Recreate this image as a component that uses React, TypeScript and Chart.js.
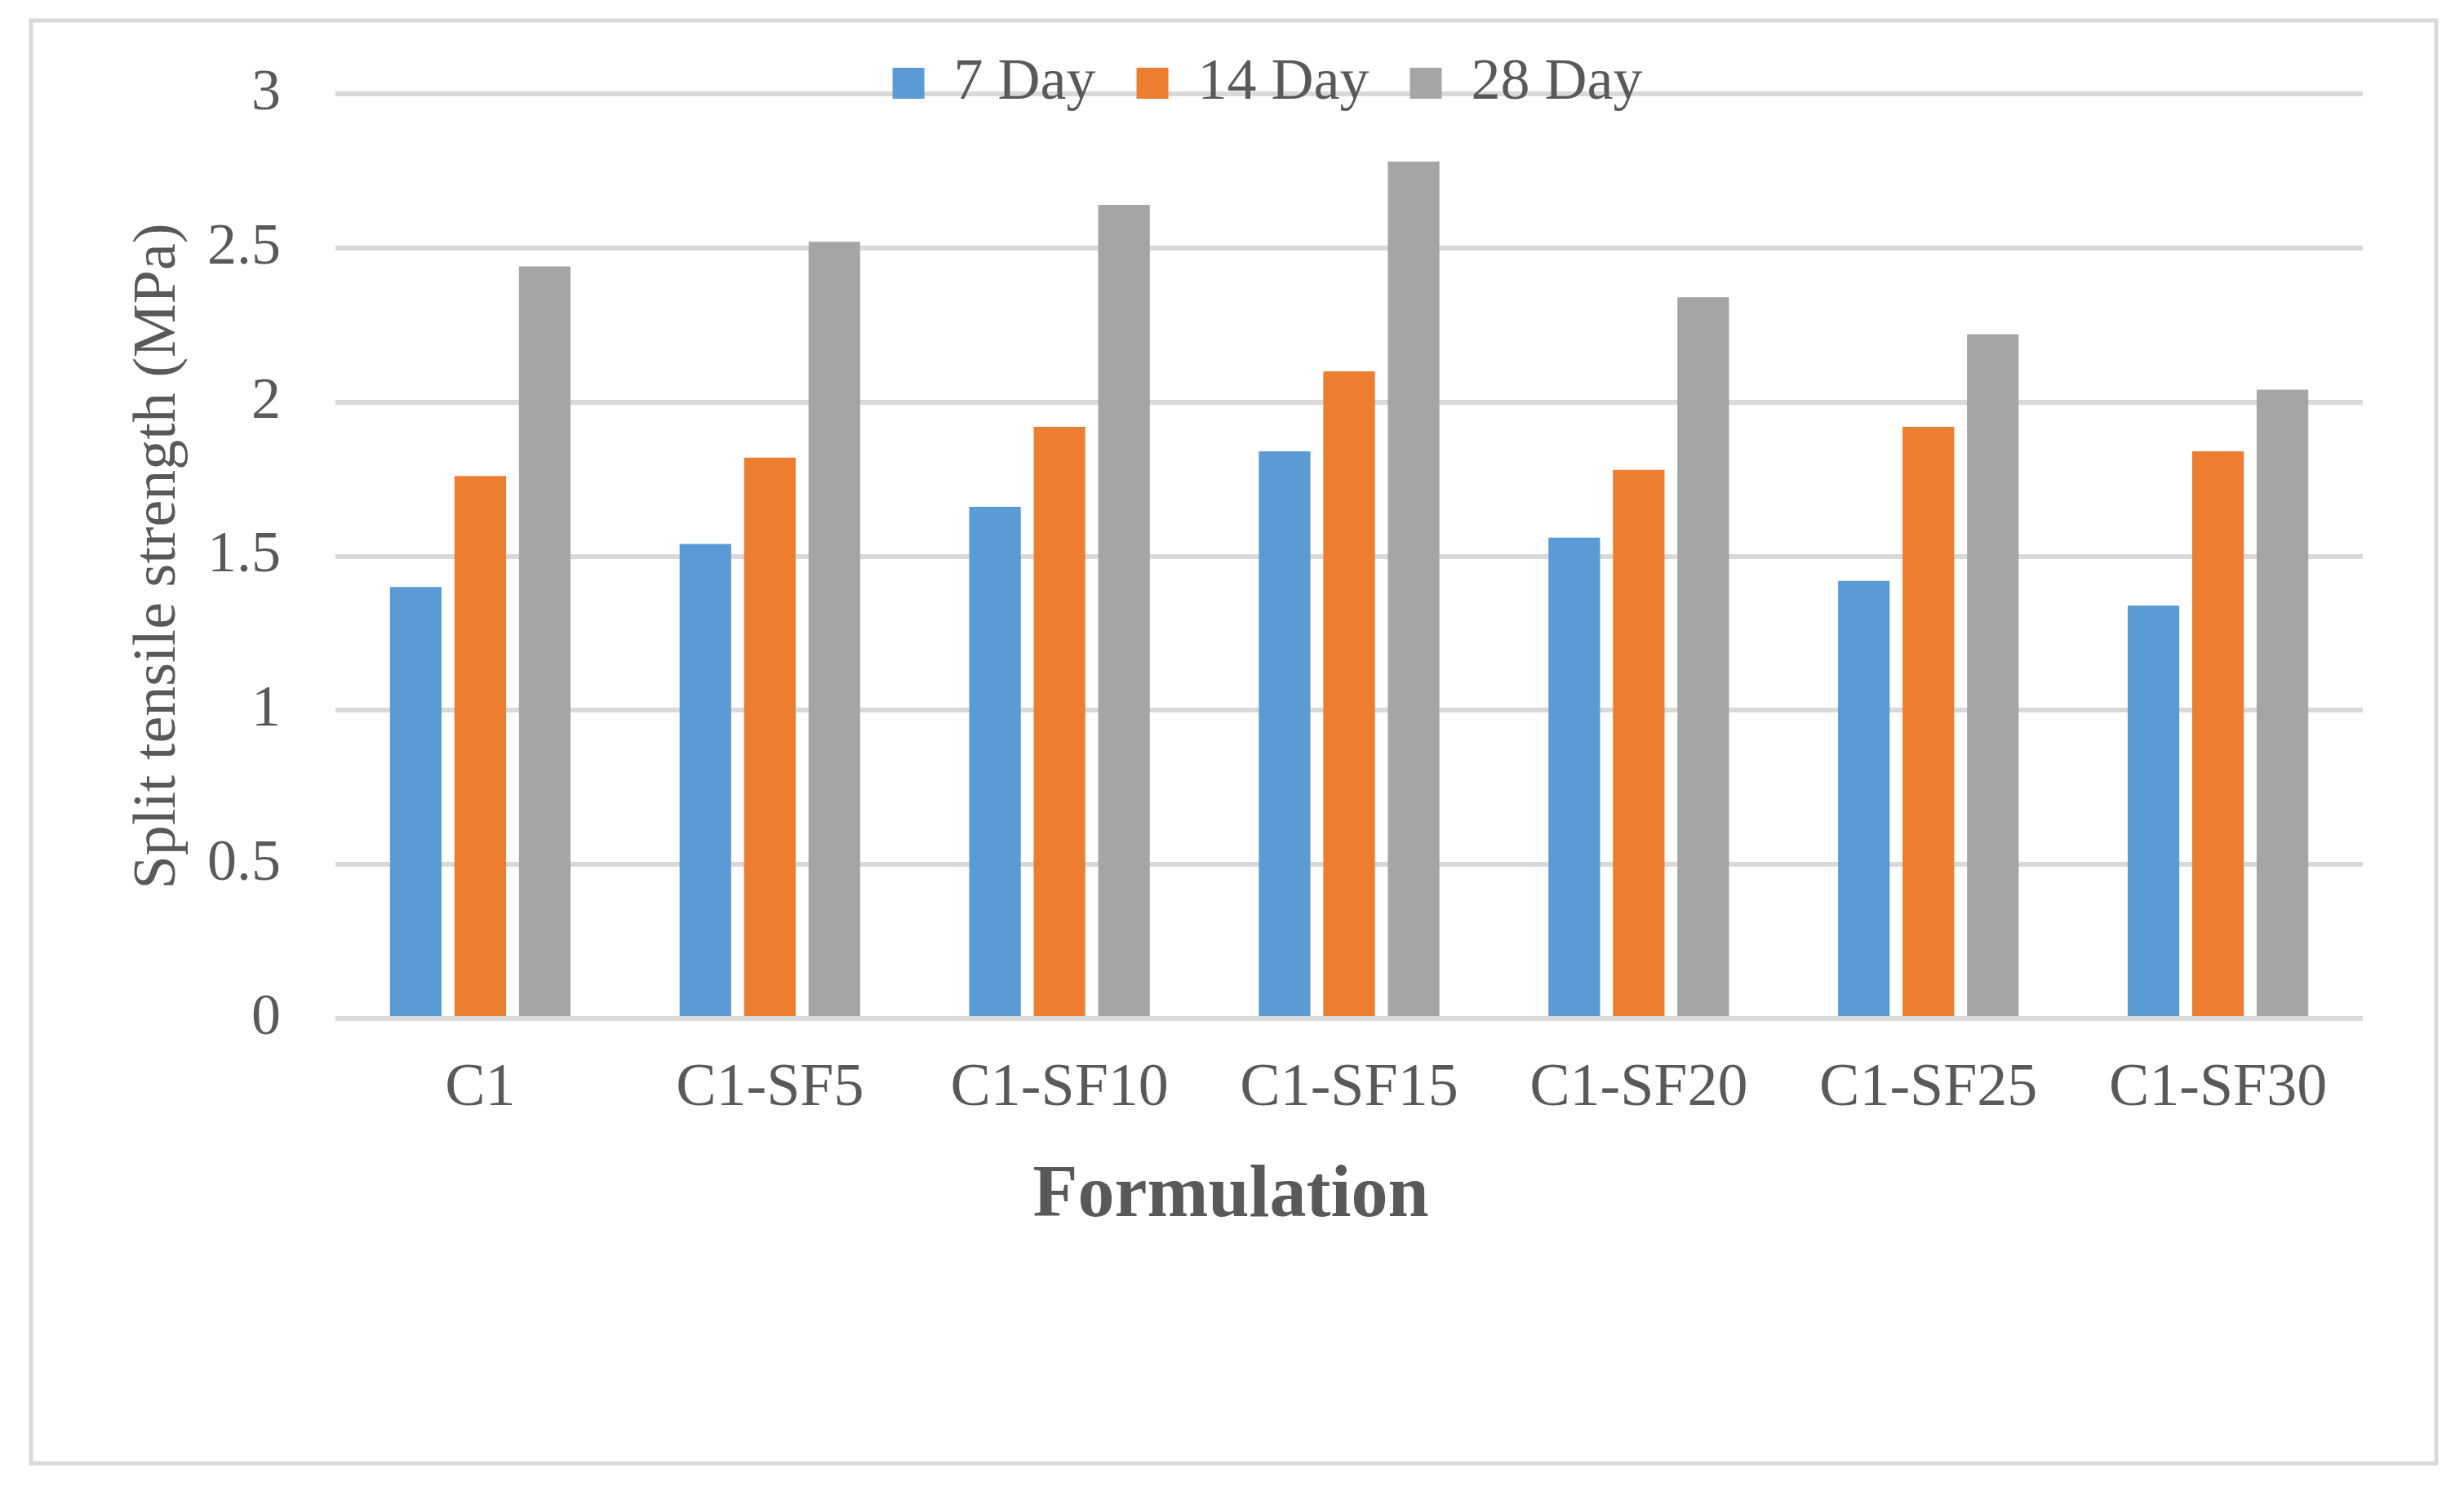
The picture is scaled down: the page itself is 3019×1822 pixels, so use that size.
import { useEffect, useRef } from "react";
import { Chart, registerables } from "chart.js";

Chart.register(...registerables);

// data
const categories = ["C1", "C1-SF5", "C1-SF10", "C1-SF15", "C1-SF20", "C1-SF25", "C1-SF30"];
const seriesLabels = ["7 Day", "14 Day", "28 Day"];
const day7 = [1.4, 1.54, 1.66, 1.84, 1.56, 1.42, 1.34];
const day14 = [1.76, 1.82, 1.92, 2.1, 1.78, 1.92, 1.84];
const day28 = [2.44, 2.52, 2.64, 2.78, 2.34, 2.22, 2.04];
const seriesColors = ["#5B9BD5", "#ED7D31", "#A5A5A5"];

const textColor = "#595959";
const gridColor = "#D9D9D9";
const fontFamily = "'Liberation Serif', 'Times New Roman', serif";

// legend sits on top of the first gridline, so pull the plot area up under it
const legendOverlap = {
    id: "legendOverlap",
    beforeInit(chart: any) {
        const legend = chart.legend;
        if (!legend) return;
        const fit = legend.fit;
        legend.fit = function () {
            fit.call(this);
            this.height -= 33;
        };
    },
    afterLayout(chart: any) {
        const legend = chart.legend;
        if (!legend) return;
        // legend clips to its own box: give the descenders room again, nudge it right
        legend.bottom += 60;
        legend.height += 60;
        legend.left += 90;
    },
};

// light grey frame round the whole figure
const outerFrame = {
    id: "outerFrame",
    beforeDraw(chart: any) {
        const ctx = chart.ctx;
        ctx.save();
        ctx.fillStyle = "#ffffff";
        ctx.fillRect(0, 0, chart.width, chart.height);
        ctx.strokeStyle = gridColor;
        ctx.lineWidth = 5;
        ctx.strokeRect(38, 25, 2947, 1768);
        ctx.restore();
    },
};

export default function App() {
    const chartRef = useRef<HTMLCanvasElement | null>(null);

    useEffect(() => {
        if (!chartRef.current) return;
        const ctx = chartRef.current.getContext("2d");
        if (!ctx) return;

        const values = [day7, day14, day28];
        const chart = new Chart(ctx, {
            type: "bar",
            data: {
                labels: categories,
                datasets: seriesLabels.map((label, i) => ({
                    label,
                    data: values[i],
                    backgroundColor: seriesColors[i],
                    borderWidth: 0,
                    categoryPercentage: 0.668,
                    barPercentage: 0.8,
                })),
            },
            options: {
                animation: false,
                responsive: true,
                maintainAspectRatio: false,
                devicePixelRatio: 1,
                layout: {
                    padding: { left: 121, right: 124, top: 16, bottom: 301 },
                },
                plugins: {
                    legend: {
                        position: "top",
                        labels: {
                            boxWidth: 39,
                            boxHeight: 38,
                            padding: 50,
                            color: textColor,
                            font: { family: fontFamily, size: 72 },
                        },
                    },
                    title: {
                        display: true,
                        position: "bottom",
                        text: "Formulation",
                        color: textColor,
                        font: { family: fontFamily, size: 90, weight: "bold", lineHeight: 1.2 },
                        padding: { top: 34, bottom: 0 },
                    },
                    tooltip: { enabled: false },
                },
                scales: {
                    x: {
                        afterFit(scale: any) {
                            scale.height = 131;
                        },
                        grid: { display: false, drawTicks: false },
                        border: { display: false },
                        ticks: {
                            color: textColor,
                            padding: 42,
                            font: { family: fontFamily, size: 74, lineHeight: 1.2 },
                        },
                    },
                    y: {
                        min: 0,
                        max: 3,
                        afterFit(scale: any) {
                            scale.width = 290;
                        },
                        ticks: {
                            stepSize: 0.5,
                            color: textColor,
                            padding: 67,
                            font: { family: fontFamily, size: 72 },
                            callback: (value: any) => String(Number(value)),
                        },
                        grid: {
                            color: gridColor,
                            lineWidth: 6,
                            drawTicks: false,
                        },
                        border: { display: false },
                        title: {
                            display: true,
                            text: "Split tensile strength (MPa)",
                            color: textColor,
                            padding: { top: 29, bottom: 0 },
                            font: { family: fontFamily, size: 74, lineHeight: 1.2 },
                        },
                    },
                },
            },
            plugins: [legendOverlap, outerFrame],
        });

        return () => {
            chart.destroy();
        };
    }, []);

    return (
        <div style={{ position: "absolute", left: 0, top: 0, width: 3019, height: 1822, background: "#fff" }}>
            <canvas ref={chartRef}></canvas>
        </div>
    );
}
